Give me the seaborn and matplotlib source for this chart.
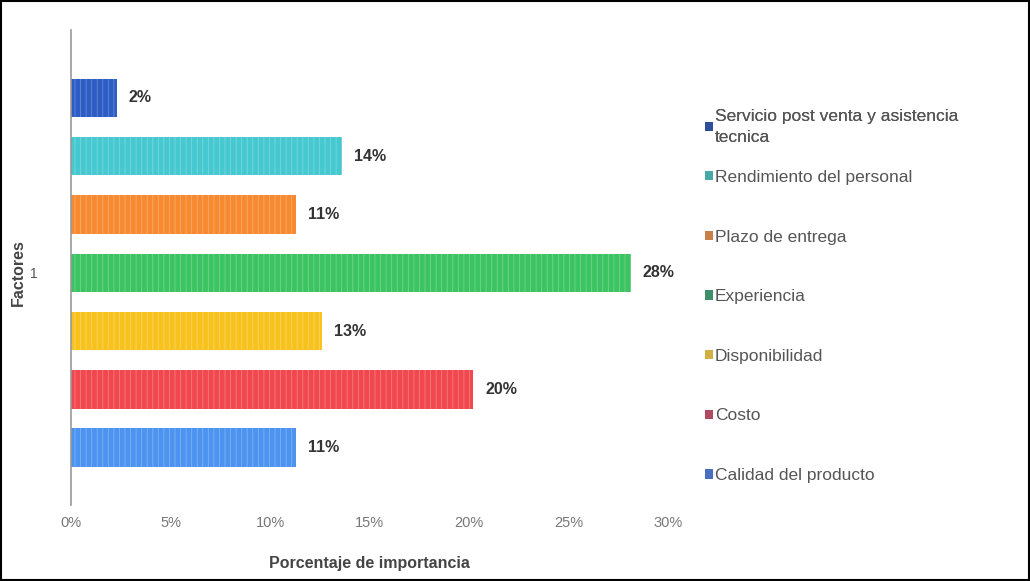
import matplotlib
matplotlib.use("Agg")
import matplotlib.pyplot as plt
import matplotlib.patches as mpatches
import seaborn as sns
import pandas as pd
from matplotlib.ticker import FuncFormatter

# Factor names (top to bottom), their shares of importance and bar colours
factores = [
    "Servicio post venta y asistencia\ntecnica",
    "Rendimiento del personal",
    "Plazo de entrega",
    "Experiencia",
    "Disponibilidad",
    "Costo",
    "Calidad del producto",
]
porcentajes = [0.023, 0.136, 0.113, 0.281, 0.126, 0.202, 0.113]
colores = ["#2c5cc4", "#45c8d0", "#f78a30", "#3cc462", "#f8c21e", "#f0484e", "#4c94f0"]
colores_leyenda = ["#2f4f9a", "#48a8a8", "#c8804a", "#3f8f6a", "#d0b040", "#b04a60", "#4a6fc0"]
grupo = ["1"] * len(factores)
x_ticks = [0.0, 0.05, 0.10, 0.15, 0.20, 0.25, 0.30]

df = pd.DataFrame({"grupo": grupo, "factor": factores, "valor": porcentajes})

sns.set_theme(style="white")
plt.rcParams["font.family"] = ["Liberation Sans", "DejaVu Sans"]
plt.rcParams["hatch.linewidth"] = 0.6

fig = plt.figure(figsize=(10.30, 5.81), dpi=100)
ax = fig.add_axes([0.069, 0.122, 0.58, 0.817])

sns.barplot(
    data=df, x="valor", y="grupo", hue="factor", hue_order=factores,
    palette=colores, orient="h", width=0.86, gap=0.34, ax=ax, legend=False,
    saturation=1,
)

# Light vertical striping over the bars
for bar in ax.patches:
    bar.set_hatch("|||")
    bar.set_edgecolor((1, 1, 1, 0.28))
    bar.set_linewidth(0)

# Value labels at the end of each bar
for bar, v in zip(ax.patches, porcentajes):
    ax.text(bar.get_width() + 0.006, bar.get_y() + bar.get_height() / 2,
            f"{v:.0%}", va="center", ha="left", fontsize=11.5,
            fontweight="bold", color="#333333")

ax.set_xlim(0, 0.30)
ax.set_ylim(0.5, -0.5)
ax.set_xticks(x_ticks)
ax.xaxis.set_major_formatter(FuncFormatter(lambda v, _: f"{v:.0%}"))
ax.tick_params(axis="x", colors="#777777", labelsize=10.5, pad=4, length=0)
ax.tick_params(axis="y", colors="#555555", labelsize=10, pad=24, length=0)

ax.set_xlabel("Porcentaje de importancia", fontsize=11.5, fontweight="bold",
              color="#444444", labelpad=19)
ax.set_ylabel("Factores", fontsize=11.5, fontweight="bold", color="#444444")
ax.yaxis.set_label_coords(-0.075, 0.5)

for side in ["top", "right", "bottom"]:
    ax.spines[side].set_visible(False)
ax.spines["left"].set_color("#999999")
ax.spines["left"].set_linewidth(1.2)
ax.spines["left"].set_bounds(0.4895, -0.5105)

# Legend: the two-line entry on its own, the remaining factors below it
handles = [mpatches.Patch(facecolor=c, edgecolor="none") for c in colores_leyenda]
common = dict(frameon=False, fontsize=12.5, labelcolor="#555555",
              handlelength=0.45, handleheight=0.45, handletextpad=0.15)
leg1 = fig.legend(handles[:1], factores[:1], loc="center left",
                  bbox_to_anchor=(0.669, 1 - 127 / 581), **common)
for t in leg1.get_texts():
    t.set_linespacing(1.45)
fig.legend(handles[1:], factores[1:], loc="center left",
           bbox_to_anchor=(0.669, 1 - 326.5 / 581), labelspacing=2.57, **common)
fig.add_artist(leg1)

# Thin frame around the whole figure
fig.patches.append(mpatches.Rectangle((0.001, 0.001), 0.998, 0.997,
                                      transform=fig.transFigure, fill=False,
                                      edgecolor="black", linewidth=1.5))

fig.savefig("out.png", dpi=100)
